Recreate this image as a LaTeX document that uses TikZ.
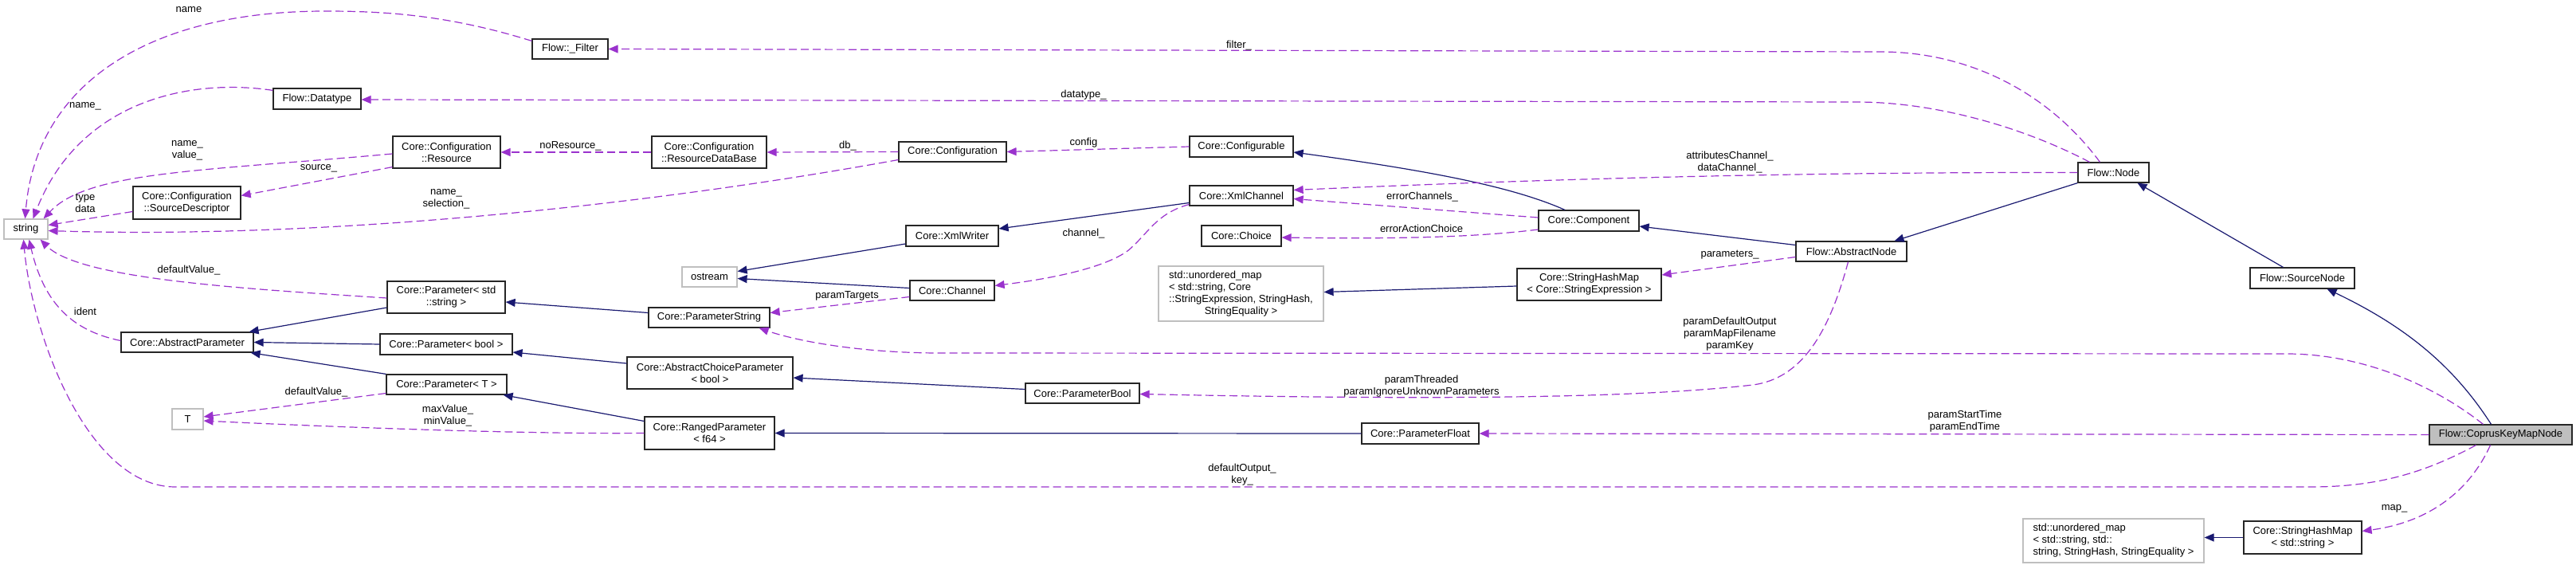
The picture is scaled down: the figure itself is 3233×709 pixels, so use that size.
\documentclass[tikz,border=0pt]{standalone}
\usepackage{fontspec}
\setmainfont{Liberation Sans}
\usetikzlibrary{arrows.meta}
\definecolor{midnight}{HTML}{191970}
\definecolor{orchid}{HTML}{9A32CD}
\definecolor{greybox}{HTML}{BFBFBF}

\begin{document}
\begin{tikzpicture}[
    x=1pt, y=-1pt,
    font=\fontsize{13}{15}\selectfont,
    cls/.style={draw=black!85, line width=1.2pt, fill=white, inner sep=0pt, align=center},
    extcls/.style={cls, draw=greybox},
    focus/.style={cls, fill=greybox},
    sz/.style 2 args={minimum width=#1pt, minimum height=#2pt},
    inh/.style={-{Triangle[length=12pt,width=10pt]}, line width=1.2pt, draw=midnight},
    member/.style={-{Triangle[length=12pt,width=10pt]}, line width=1.2pt, draw=orchid,
                   dash pattern=on 10pt off 5pt},
    lbl/.style={inner sep=0pt, align=center}
]
\useasboundingbox (0,0) rectangle (3233,709);

% external types
\node[extcls, sz={55}{25}] (string) at (32.5,287.5) {string};
\node[extcls, sz={39}{26}] (T) at (235.5,526) {T};
\node[extcls, sz={69}{25}] (ostream) at (890.5,347.5) {ostream};
\node[extcls, sz={207}{69}] (umapexpr) at (1557.5,368.5) {\begin{tabular}{@{}l@{}}std::unordered\_map\\< std::string, Core\\::StringExpression, StringHash,\\\multicolumn{1}{@{}c@{}}{StringEquality >}\end{tabular}};
\node[extcls, sz={227}{55}, align=left] (umapstr) at (2652.5,678.5) {std::unordered\_map\\< std::string, std::\\string, StringHash, StringEquality >};

% classes
\node[cls, sz={95}{25}] (filter) at (715.5,61.5) {Flow::\_Filter};
\node[cls, sz={110}{26}] (datatype) at (398,124) {Flow::Datatype};
\node[cls, sz={135}{40}] (cfgres) at (560.5,191) {Core::Configuration\\::Resource};
\node[cls, sz={135}{41}] (srcdesc) at (234.5,254.5) {Core::Configuration\\::SourceDescriptor};
\node[cls, sz={144}{40}] (resdb) at (890,191) {Core::Configuration\\::ResourceDataBase};
\node[cls, sz={135}{25}] (config) at (1195.5,190.5) {Core::Configuration};
\node[cls, sz={130}{26}] (configurable) at (1558,184) {Core::Configurable};
\node[cls, sz={130}{25}] (xmlchannel) at (1558,245.5) {Core::XmlChannel};
\node[cls, sz={116}{26}] (xmlwriter) at (1195,296) {Core::XmlWriter};
\node[cls, sz={100}{26}] (choice) at (1558,296) {Core::Choice};
\node[cls, sz={106}{25}] (channel) at (1195,364.5) {Core::Channel};
\node[cls, sz={148}{40}] (paramstd) at (560,373) {Core::Parameter< std\\::string >};
\node[cls, sz={166}{25}] (absparam) at (235,429.5) {Core::AbstractParameter};
\node[cls, sz={166}{26}] (paramtbool) at (560,432) {Core::Parameter< bool >};
\node[cls, sz={151}{25}] (paramT) at (560.5,482.5) {Core::Parameter< T >};
\node[cls, sz={152}{25}] (paramstring) at (890,398.5) {Core::ParameterString};
\node[cls, sz={208}{40}] (choiceparam) at (891,468) {Core::AbstractChoiceParameter\\< bool >};
\node[cls, sz={163}{41}] (ranged) at (890.5,543.5) {Core::RangedParameter\\< f64 >};
\node[cls, sz={143}{25}] (parambool) at (1358.5,493.5) {Core::ParameterBool};
\node[cls, sz={147}{26}] (paramfloat) at (1782.5,544) {Core::ParameterFloat};
\node[cls, sz={126}{26}] (component) at (1994,277) {Core::Component};
\node[cls, sz={181}{40}] (shmexpr) at (1994.5,357) {Core::StringHashMap\\< Core::StringExpression >};
\node[cls, sz={139}{25}] (absnode) at (2323.5,315.5) {Flow::AbstractNode};
\node[cls, sz={89}{25}] (flownode) at (2652.5,216.5) {Flow::Node};
\node[cls, sz={131}{26}] (sourcenode) at (2889.5,349) {Flow::SourceNode};
\node[focus, sz={179}{25}] (corpus) at (3138.5,545.5) {Flow::CoprusKeyMapNode};
\node[cls, sz={148}{41}] (shmstr) at (2890,674.5) {Core::StringHashMap\\< std::string >};

% inheritance: arrow points at the base class
\draw[inh] (flownode.south west) -- ([xshift=54pt]absnode.north);
\draw[inh] ([yshift=8pt]absnode.west) -- ([yshift=-7pt]component.east);
\draw[inh] ([xshift=-30pt]component.north) .. controls (1900,235) and (1800,215) .. ([yshift=-7pt]configurable.east);
\draw[inh] ([xshift=-24pt]sourcenode.north) -- ([xshift=30pt]flownode.south);
\draw[inh] ([xshift=-12pt]corpus.north) .. controls (3080,460) and (3020,410) .. ([xshift=31pt]sourcenode.south);
\draw[inh] ([yshift=-9pt]xmlchannel.west) -- ([yshift=9pt]xmlwriter.east);
\draw[inh] ([yshift=-10pt]xmlwriter.west) -- ([yshift=7pt]ostream.east);
\draw[inh] ([yshift=3pt]channel.west) -- ([yshift=-2pt]ostream.east);
\draw[inh] ([yshift=6pt]paramstring.west) -- ([yshift=-6pt]paramstd.east);
\draw[inh] ([yshift=-13pt]paramstd.west) -- ([xshift=-6pt]absparam.north east);
\draw[inh] (paramtbool.west) -- (absparam.east);
\draw[inh] (paramT.north west) -- ([xshift=-4pt]absparam.south east);
\draw[inh] ([yshift=12pt]choiceparam.west) -- ([yshift=-10pt]paramtbool.east);
\draw[inh] ([yshift=15pt]ranged.west) -- ([xshift=-5pt]paramT.south east);
\draw[inh] ([yshift=5pt]parambool.west) -- ([yshift=-6pt]choiceparam.east);
\draw[inh] (paramfloat.west) -- (ranged.east);
\draw[inh] ([yshift=-2pt]shmexpr.west) -- ([yshift=2pt]umapexpr.east);
\draw[inh] (shmstr.west) -- ([yshift=4pt]umapstr.east);

% members: arrow points at the used type
\draw[member] ([yshift=-3pt]filter.north west) .. controls (560,18) and (480,14) .. (408,14)
    .. controls (180,14) and (45,110) .. ([xshift=-1pt]string.north);
\draw[member] ([yshift=-3pt]datatype.north west) .. controls (240,98) and (100,125) .. ([xshift=9pt]string.north);
\draw[member] ([yshift=-2pt]cfgres.west) .. controls (250,215) and (110,215) .. ([xshift=-6pt]string.north east);
\draw[member] ([yshift=-11pt]srcdesc.west) -- ([yshift=5pt]string.east);
\draw[member] ([yshift=-10pt]config.west) .. controls (800,260) and (400,300) .. ([yshift=-2pt]string.east);
\draw[member] ([yshift=-1pt]paramstd.west) .. controls (300,362) and (100,350) .. ([xshift=-10pt]string.south east);
\draw[member] ([yshift=2pt]absparam.west) .. controls (90,415) and (55,380) .. ([xshift=4pt]string.south);
\draw[member] ([xshift=-31pt]corpus.south) .. controls (3040,595) and (2980,611) .. (2900,611) -- (220,611)
    .. controls (110,611) and (40,420) .. ([xshift=-3pt]string.south);
\draw[member] ([yshift=2pt]cfgres.south west) -- ([yshift=9pt]srcdesc.east);
\draw[member] (resdb.west) -- (cfgres.east);
\draw[member] (config.west) -- (resdb.east);
\draw[member] (configurable.west) -- (config.east);
\draw[member] ([xshift=-17pt]flownode.north) .. controls (2570,115) and (2470,65) .. (2360,65) -- (filter.east);
\draw[member] ([xshift=-30pt]flownode.north) .. controls (2540,160) and (2430,128) .. (2330,128) -- ([yshift=-1pt]datatype.east);
\draw[member] (flownode.west) .. controls (2300,216) and (2000,222) .. ([yshift=7pt]xmlchannel.east);
\draw[member] ([yshift=4pt]component.west) -- ([yshift=-4pt]xmlchannel.east);
\draw[member] ([yshift=-11pt]component.west) .. controls (1850,298) and (1750,300) .. ([yshift=-2pt]choice.east);
\draw[member] ([yshift=-11pt]xmlchannel.west) .. controls (1450,268) and (1440,295) .. (1415,315)
    .. controls (1380,340) and (1300,352) .. ([yshift=6pt]channel.east);
\draw[member] ([yshift=-8pt]channel.west) -- ([yshift=6pt]paramstring.east);
\draw[member] ([yshift=-7pt]absnode.west) -- ([yshift=12pt]shmexpr.east);
\draw[member] ([xshift=-4pt]absnode.south) .. controls (2295,420) and (2260,475) .. (2200,483)
    .. controls (2050,500) and (1800,502) .. ([yshift=-1pt]parambool.east);
\draw[member] ([xshift=-22pt]corpus.north) .. controls (3050,480) and (2960,444) .. (2870,444) -- (1180,443)
    .. controls (1080,443) and (1000,428) .. ([xshift=-14pt]paramstring.south east);
\draw[member] (corpus.west) -- (paramfloat.east);
\draw[member] ([xshift=-13pt]corpus.south) .. controls (3100,615) and (3050,655) .. ([yshift=8pt]shmstr.east);
\draw[member] ([yshift=-11pt]paramT.west) -- ([yshift=3pt]T.east);
\draw[member] (ranged.west) .. controls (650,545) and (400,535) .. ([yshift=-2pt]T.east);

% member labels
\node[lbl] (lname) at (237,12) {name};
\node[lbl] (ldtname) at (107,133) {name\_};
\node[lbl] (lresname) at (235,189) {name\_\\value\_};
\node[lbl] (ltype) at (107,255) {type\\data};
\node[lbl] (lselection) at (560,250) {name\_\\selection\_};
\node[lbl] (ldefstr) at (237,339) {defaultValue\_};
\node[lbl] (lident) at (107,391) {ident};
\node[lbl] (lkey) at (1559,596) {defaultOutput\_\\key\_};
\node[lbl] (lsource) at (400,211) {source\_};
\node[lbl] (lnores) at (716,183) {noResource\_};
\node[lbl] (ldb) at (1064,183) {db\_};
\node[lbl] (lconfig) at (1360,179) {config};
\node[lbl] (lfilter) at (1555,57) {filter\_};
\node[lbl] (ldatatype) at (1360,119) {datatype\_};
\node[lbl] (lchannels) at (2171,204) {attributesChannel\_\\dataChannel\_};
\node[lbl] (lerrch) at (1785,247) {errorChannels\_};
\node[lbl] (lerrchoice) at (1784,287) {errorActionChoice};
\node[lbl] (lchannel) at (1360,293) {channel\_};
\node[lbl] (ltargets) at (1063,371) {paramTargets};
\node[lbl] (lparams) at (2171,320) {parameters\_};
\node[lbl] (lthreaded) at (1784,485) {paramThreaded\\paramIgnoreUnknownParameters};
\node[lbl] (lparamstr) at (2171,419) {paramDefaultOutput\\paramMapFilename\\paramKey};
\node[lbl] (ltime) at (2466,529) {paramStartTime\\paramEndTime};
\node[lbl] (lmap) at (3005,638) {map\_};
\node[lbl] (ldefT) at (397,492) {defaultValue\_};
\node[lbl] (lminmax) at (562,522) {maxValue\_\\minValue\_};

\end{tikzpicture}
\end{document}
